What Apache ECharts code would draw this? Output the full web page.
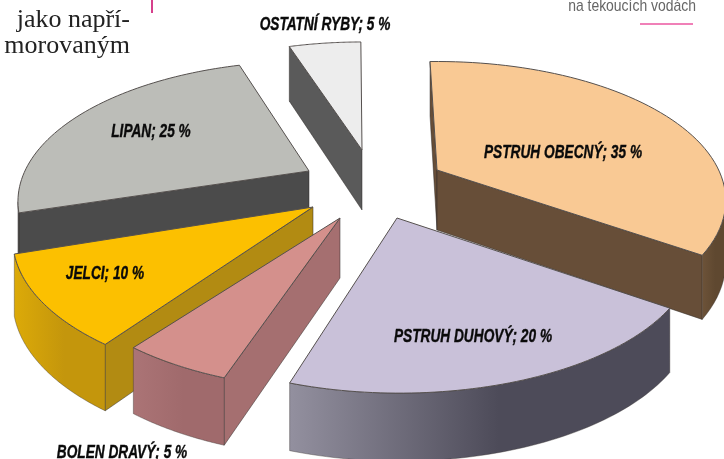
<!DOCTYPE html>
<html>
<head>
<meta charset="utf-8">
<style>html,body{margin:0;padding:0;background:#fff}#container{width:724px;height:459px}</style>
<script src="https://cdn.jsdelivr.net/npm/echarts@6/dist/echarts.min.js"></script>
</head>
<body>
<div id="container"></div>
<script>
// shares clockwise from 12 o'clock
let categories = ['PSTRUH OBECNÝ', 'PSTRUH DUHOVÝ', 'BOLEN DRAVÝ', 'JELCI', 'LIPAN', 'OSTATNÍ RYBY'];
let shares = [35, 20, 5, 10, 25, 5];

// look of each slice, same order
let topColors = ['#f9c994', '#c9c1d9', '#d4908c', '#fcc000', '#bcbdb8', '#ededed'];
let sideColors = ['#674e38', '#5a5868', '#a56f70', '#b28b12', '#4b4b4b', '#5a5a5a'];
let arcColors = [['#6d5339', '#5f4830'], ['#93909f', '#4d4b59'], ['#ab7476', '#a06a6c'], ['#dcaa08', '#c4960c'], ['#4b4b4b', '#4b4b4b'], ['#5a5a5a', '#5a5a5a']];
let drawOrder = [3, 6, 5, 4, 2, 1];
// how far each slice is pulled from the pie centre
let explode = [[67, -20], [27, 28], [-30, 28], [-57, 17], [-61, -19], [-8, -40]];
// small per slice corrections, the printed pie is not a clean projection
let turn = [-0.002, 0, 0.005, 0.001, 0.005, 0.002];
let stretch = [0.985, 1.015, 1, 1.03, 1, 0.98];
let labelOffset = [[126, -17], [76, 119], [-218, 235], [-208, 67], [-158, -39], [-37, -125]];

let pieCenter = [370, 190];
// perspective of the pie plane
let persp = {a: 285, b: -5, c: -2, d: -134, g: 0, h: 0.22};
let thickness = 60;
let labelFont = 'italic bold 19px "Liberation Sans"';

function project(t, r, ox, oy) {
    let u = r * Math.sin(t * 2 * Math.PI);
    let v = r * Math.cos(t * 2 * Math.PI);
    let w = 1 + persp.g * u + persp.h * v;
    return {
        x: ox + (persp.a * u + persp.b * v) / w,
        y: oy + (persp.c * u + persp.d * v) / w,
        depth: thickness / Math.sqrt(w)
    };
}

function wall(p, q) {
    return [[p.x, p.y], [q.x, q.y], [q.x, q.y + q.depth], [p.x, p.y + p.depth]];
}

function renderSlice(params) {
    let i = params.dataIndex;
    let total = shares.reduce(function (s, v) { return s + v; }, 0);
    let t0 = shares.slice(0, i).reduce(function (s, v) { return s + v; }, 0) / total + turn[i];
    let t1 = t0 + shares[i] / total;
    let ox = pieCenter[0] + explode[i][0];
    let oy = pieCenter[1] + explode[i][1];
    let apex = project(0, 0, ox, oy);
    let arc = [];
    for (let k = 0; k <= 60; k++) {
        arc.push(project(t0 + (t1 - t0) * k / 60, stretch[i], ox, oy));
    }
    let first = arc[0], last = arc[arc.length - 1];
    let base = drawOrder[i] * 10;
    let children = [];

    // a wall shows only where the outline runs leftward
    [[apex, first], [last, apex]].forEach(function (e) {
        if (e[1].x < e[0].x) {
            children.push({type: 'polygon', z2: base, shape: {points: wall(e[0], e[1])},
                style: {fill: sideColors[i], stroke: '#2e2a28', lineWidth: 0.5}});
        }
    });
    let visible = [];
    for (let k = 1; k < arc.length; k++) {
        if (arc[k].x < arc[k - 1].x) {
            if (!visible.length) visible.push(arc[k - 1]);
            visible.push(arc[k]);
        }
    }
    if (visible.length) {
        let pts = visible.map(function (p) { return [p.x, p.y]; });
        visible.slice().reverse().forEach(function (p) { pts.push([p.x, p.y + p.depth]); });
        children.push({type: 'polygon', z2: base + 1, shape: {points: pts}, style: {
            fill: new echarts.graphic.LinearGradient(0, 0, 1, 0, [
                {offset: 0, color: arcColors[i][0]},
                {offset: 0.55, color: arcColors[i][1]},
                {offset: 1, color: arcColors[i][1]}
            ]),
            stroke: '#3a3533', lineWidth: 0.4
        }});
    }
    let outline = [[apex.x, apex.y]].concat(arc.map(function (p) { return [p.x, p.y]; }));
    children.push({type: 'polygon', z2: base + 2, shape: {points: outline},
        style: {fill: topColors[i], stroke: '#55504e', lineWidth: 1}});
    children.push({type: 'text', z2: 100, x: ox + labelOffset[i][0], y: oy + labelOffset[i][1], scaleX: 0.72, style: {
        text: categories[i] + '; ' + shares[i] + ' %',
        font: labelFont,
        fill: '#0a0a0a', stroke: '#0a0a0a', lineWidth: 0.4,
        textAlign: 'center', textVerticalAlign: 'middle'
    }});
    return {type: 'group', children: children};
}

let myChart = echarts.init(document.getElementById('container'));
let option = {
    animation: false,
    graphic: [
        {type: 'text', x: 130, y: 7, style: {text: 'jako napří-', font: '26px "Liberation Serif"', fill: '#222', textAlign: 'right'}},
        {type: 'text', x: 130, y: 33, style: {text: 'morovaným', font: '26px "Liberation Serif"', fill: '#222', textAlign: 'right'}},
        {type: 'rect', shape: {x: 151, y: 0, width: 2, height: 13}, style: {fill: '#d6408c'}},
        {type: 'text', x: 696, y: -2, scaleX: 0.82, style: {text: 'na tekoucích vodách', font: '17px "Liberation Sans"', fill: '#666', textAlign: 'right'}},
        {type: 'rect', shape: {x: 640, y: 23, width: 53, height: 2}, style: {fill: '#f080b8'}}
    ],
    series: [{
        type: 'custom',
        coordinateSystem: 'none',
        renderItem: renderSlice,
        silent: true,
        data: shares
    }]
};
myChart.setOption(option, true);
</script>
</body>
</html>
